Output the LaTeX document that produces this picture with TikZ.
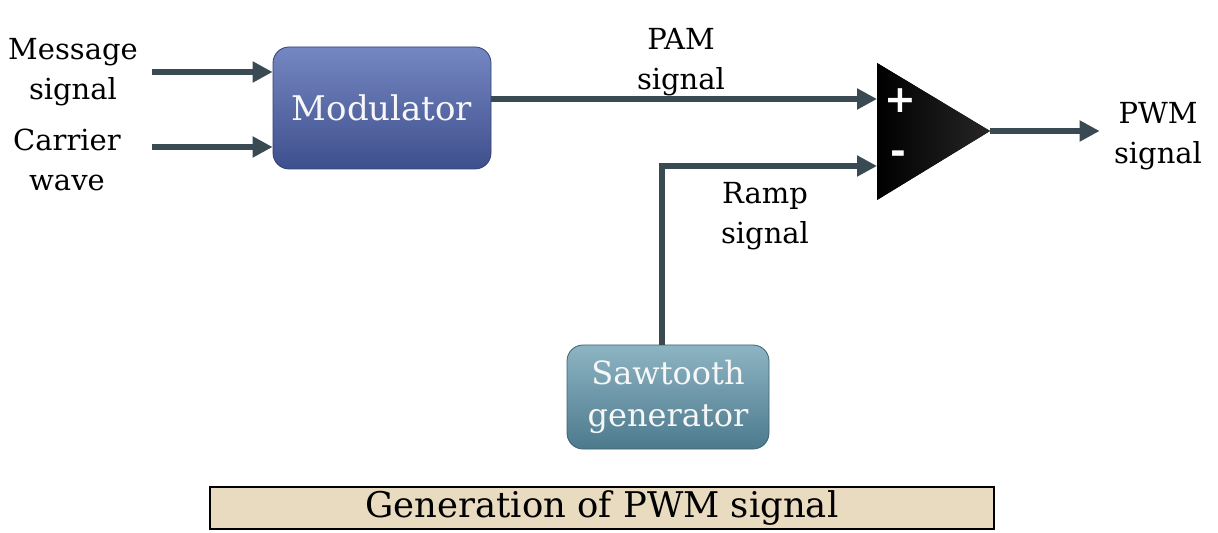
\documentclass[tikz,border=0pt]{standalone}
\usepackage{fontspec}
\setmainfont{DejaVu Serif}
\setsansfont{DejaVu Sans}
\usepackage{tikz}
\usetikzlibrary{arrows.meta,positioning,shadings}

\definecolor{modtop}{HTML}{7587C2}
\definecolor{modbot}{HTML}{3E4F8D}
\definecolor{sawtop}{HTML}{8DB4C3}
\definecolor{sawbot}{HTML}{4C7A8D}
\definecolor{wire}{HTML}{3A4A52}
\definecolor{paper}{HTML}{E9DBBF}

\begin{document}
\begin{tikzpicture}[x=0.5pt, y=-0.5pt, >={Triangle[length=10pt,width=10pt]},
  blk/.style={rounded corners=8pt, align=center, text=white!94!gray,
    font=\fontsize{16}{21}\selectfont},
  lbl/.style={align=center, font=\fontsize{14.5}{20}\selectfont, inner sep=2pt},
  sig/.style={->, draw=wire, line width=2.6pt},
  sgn/.style={text=white, font=\sffamily\bfseries\fontsize{19}{19}\selectfont, inner sep=0pt}]
\useasboundingbox (0,0) rectangle (1218,533);

% blocks
\node[blk, top color=modtop, bottom color=modbot, draw=modbot!80!black,
  minimum width=109pt, minimum height=61pt, font=\fontsize{17}{21}\selectfont]
  (mod) at (382,108) {Modulator};
\node[blk, top color=sawtop, bottom color=sawbot, draw=sawbot!80!black,
  minimum width=101pt, minimum height=52pt] (saw) at (668,397) {Sawtooth\\generator};

% comparator
\coordinate (plus) at (877,99);
\coordinate (minus) at (877,166);
\coordinate (cmpout) at (990,131);
\fill[left color=black, right color=black!85] (877,63) -- (877,200) -- (cmpout) -- cycle;
\node[sgn] (plussign) at (900,101) {+};
\node[sgn] (minussign) at (898,158) {-};

% labels
\node[lbl] (msg) at (73,72) {Message\\signal};
\node[lbl] (car) at (67,160) {Carrier\\wave};
\node[lbl] (pam) at (681,62) {PAM\\signal};
\node[lbl] (ramp) at (765,216) {Ramp\\signal};
\node[lbl] (pwm) at (1158,136) {PWM\\signal};

% input wires start a little right of the labels
\coordinate (msgin) at (152,72);
\coordinate (carin) at (152,147);

% connectors
\draw[sig] (msgin) -- (msgin -| mod.west);
\draw[sig] (carin) -- (carin -| mod.west);
\draw[sig] (plus -| mod.east) -- (plus);
\draw[sig] ([xshift=-3pt]saw.north) |- (minus);
\draw[sig] (cmpout) -- ([xshift=-5pt]pwm.west |- cmpout);

% caption
\node[draw, line width=0.8pt, fill=paper, minimum width=392pt, minimum height=21pt,
  font=\fontsize{17.7}{20}\selectfont, inner sep=0pt] (cap) at (602,508)
  {Generation of PWM signal};
\end{tikzpicture}
\end{document}
